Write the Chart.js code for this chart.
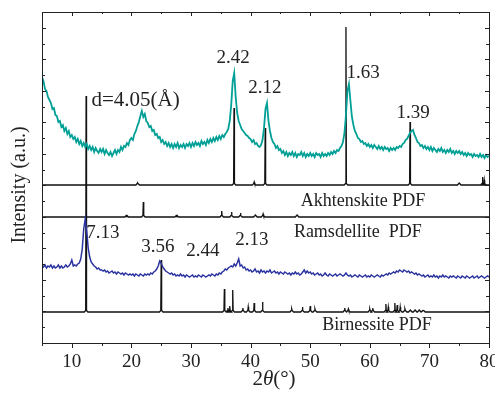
<!DOCTYPE html>
<html><head><meta charset="utf-8">
<script src="https://cdn.jsdelivr.net/npm/chart.js@4/dist/chart.umd.min.js"></script>
<style>html,body{margin:0;padding:0;background:#fff;}canvas{display:block;}</style>
</head><body>
<canvas id="c" width="495" height="395"></canvas>
<script>
// 2theta sampling grid for measured patterns: 5..80 deg, step 0.25
const scanStart = 5, scanStep = 0.25;
// Akhtenskite-like sample (teal), intensity a.u.
const tealScan = [
266,262,254,252,246,243,240,234,235,228,227,221,222,216,218,212,215,209,212,206,
208,204,206,201,204,199,202,197,200,196,199,194,197,193,196,191,195,192,190,194,
191,194,189,193,190,188,191,187,190,193,189,193,191,196,193,197,196,200,198,203,
205,203,209,212,217,221,227,232,226,229,222,220,216,217,212,213,208,209,205,206,
201,203,199,201,197,200,196,199,195,199,196,200,195,198,196,199,195,199,197,200,
196,200,197,201,198,200,197,202,199,201,198,203,200,204,201,205,202,206,203,207,
204,208,206,209,211,214,222,238,262,270,246,230,222,218,214,212,210,208,207,205,
204,201,203,199,200,197,196,198,203,215,234,240,222,212,205,201,199,195,197,193,
194,190,192,188,191,187,190,188,191,187,190,186,189,188,191,187,190,186,189,187,
190,187,189,186,190,188,189,186,190,187,189,187,190,188,191,189,192,190,193,192,
195,197,201,210,228,252,259,242,226,218,212,209,205,204,201,202,199,200,197,199,
196,198,195,198,196,194,197,194,196,193,196,194,195,192,195,193,195,193,196,195,
197,196,199,200,203,204,207,210,212,213,208,205,201,200,197,198,195,197,194,196,
193,196,192,195,193,191,194,192,195,191,193,190,193,191,194,190,192,189,192,190,
192,189,191,188,190,187,190,188,189,186,189,187,188,186,189,186,188,185,188,186,
187];
// Birnessite-like sample (blue)
const blueScan = [
78,76,78,75,77,76,78,75,77,75,76,78,75,77,75,76,78,76,77,79,
83,77,78,77,79,80,84,94,114,124,112,95,86,81,79,77,76,74,75,73,
73,72,73,71,72,70,71,72,70,71,69,71,70,69,70,68,70,69,68,69,
68,69,67,69,68,67,69,68,67,69,68,69,68,70,69,71,72,74,77,82,
80,76,74,72,71,70,69,70,68,69,67,68,67,69,67,68,66,68,67,66,
67,68,66,67,66,68,67,66,68,67,66,67,68,67,69,68,67,69,68,70,
69,71,72,74,73,75,76,77,76,79,77,80,84,77,78,75,76,73,74,72,
73,71,72,74,71,72,70,73,71,72,70,72,71,73,70,71,72,70,71,69,
71,70,69,71,70,69,70,68,70,69,71,69,70,68,69,71,73,70,72,70,
71,69,70,68,69,70,68,69,67,68,70,68,67,69,68,67,68,69,67,68,
69,68,67,68,70,68,67,68,66,67,68,67,66,68,67,66,67,68,66,67,
66,68,67,66,67,68,67,66,68,67,68,69,68,70,69,70,71,70,72,71,
73,72,71,73,72,71,72,70,71,70,69,70,68,69,68,67,68,66,67,68,
66,67,66,68,66,67,65,67,66,68,66,67,66,65,67,66,67,66,65,67,
66,65,67,66,65,67,66,65,66,67,65,66,67,65,66,67,66,65,66,67,
66];
// Reference (PDF) stick patterns: positions (2theta) and peak tops, with baselines
const akhBase = 158;
const akhPos = [21.05, 37.22, 40.6, 42.45, 56.0, 66.75, 75.0, 78.9, 79.2];
const akhTop = [160, 235, 161, 215, 316, 221, 160, 166, 163];
const ramBase = 126;
const ramPos = [19.2, 22.0, 27.6, 35.15, 36.8, 38.3, 40.8, 42.1, 47.8];
const ramTop = [127, 141, 127, 132, 131, 130, 128, 129, 128];
const birBase = 31;
const birPos = [12.4, 25.0, 35.6, 36.2, 36.5, 37.0, 38.7, 39.6, 40.6, 42.0, 46.9, 48.7, 50.0, 50.8, 55.8, 56.4, 60.0, 60.5, 62.7, 63.1, 64.2, 64.6, 65.1, 65.9, 66.8, 67.6, 68.3, 69.0];
const birTop = [247, 83, 54, 35, 37, 53, 35, 36, 40, 41, 34, 36, 37, 34, 35, 34, 34, 35, 39, 36, 40, 38, 36, 34, 33, 33, 33, 33];
// Tick labels and annotation texts
const xTickLabels = [10, 20, 30, 40, 50, 60, 70, 80];
const peakLabels = [
  {t:'d=4.05(Å)', x:20.7, y:243, s:21},
  {t:'2.42', x:37.05, y:285, s:19},
  {t:'2.12', x:42.4, y:255, s:19},
  {t:'1.63', x:58.86, y:270, s:19},
  {t:'1.39', x:67.25, y:230, s:19},
  {t:'Akhtenskite PDF', x:58.86, y:142, s:18},
  {t:'Ramsdellite  PDF', x:58.0, y:111, s:18},
  {t:'7.13', x:15.23, y:110, s:19},
  {t:'3.56', x:24.46, y:96, s:19},
  {t:'2.44', x:32.0, y:92, s:19},
  {t:'2.13', x:40.2, y:103, s:19},
  {t:'Birnessite PDF', x:61.2, y:18, s:18}
];

const FONT = "'Liberation Serif', 'Times New Roman', serif";

function scanPoints(arr){ return arr.map((v,i)=>({x: scanStart + scanStep*i, y: v})); }
function stickPoints(pos, top, base){
  const pts = [{x:5, y:base}];
  pos.forEach((p,i)=>{
    pts.push({x:p-0.3, y:base});
    pts.push({x:p-0.07, y:base+1.5});
    pts.push({x:p, y:top[i]});
    pts.push({x:p+0.07, y:base+1.5});
    pts.push({x:p+0.3, y:base});
  });
  pts.push({x:80, y:base});
  return pts;
}

const decor = {
  id:'decor',
  afterDraw(chart){
    const {ctx, chartArea:{left,right,top,bottom}, scales:{x,y}} = chart;
    ctx.save();
    ctx.strokeStyle = '#222'; ctx.lineWidth = 1;
    ctx.strokeRect(Math.round(left)+0.5, Math.round(top)+0.5, Math.round(right-left), Math.round(bottom-top));
    ctx.beginPath();
    for (let v=5; v<=80; v+=5){
      const px = Math.round(x.getPixelForValue(v))+0.5;
      const major = v%10===0;
      ctx.moveTo(px, bottom); ctx.lineTo(px, bottom + (major?5:3));
      ctx.moveTo(px, top); ctx.lineTo(px, top + (major?4:2));
    }
    for (let k=1; k<21; k++){
      const py = Math.round(y.getPixelForValue(k*331/21))+0.5;
      const len = k%2===0 ? 4 : 3;
      ctx.moveTo(left, py); ctx.lineTo(left+len, py);
      ctx.moveTo(right, py); ctx.lineTo(right-len, py);
    }
    ctx.stroke();
    ctx.fillStyle = '#222';
    ctx.textBaseline = 'middle'; ctx.textAlign = 'center';
    // x tick labels
    ctx.font = '19px ' + FONT;
    xTickLabels.forEach(v=>{ ctx.fillText(String(v), x.getPixelForValue(v), 362); });
    peakLabels.forEach(l=>{
      ctx.font = l.s + 'px ' + FONT;
      ctx.fillText(l.t, x.getPixelForValue(l.x), y.getPixelForValue(l.y));
    });
    // x-axis title 2θ(°)
    const parts = [['2','21px '+FONT],['θ','italic 21px '+FONT],['(°)','21px '+FONT]];
    let w = 0; parts.forEach(p=>{ctx.font=p[1]; w+=ctx.measureText(p[0]).width;});
    let cx = 274 - w/2;
    ctx.textAlign = 'left';
    parts.forEach(p=>{ctx.font=p[1]; ctx.fillText(p[0], cx, 379); cx += ctx.measureText(p[0]).width;});
    // y-axis title
    ctx.translate(20, 185); ctx.rotate(-Math.PI/2);
    ctx.textAlign = 'center'; ctx.font = '20px ' + FONT;
    ctx.fillText('Intensity (a.u.)', 0, 0);
    ctx.restore();
  }
};

new Chart(document.getElementById('c'), {
  type:'line',
  data:{ datasets:[
    {data:scanPoints(tealScan), borderColor:'#00a096', borderWidth:1.8},
    {data:scanPoints(blueScan), borderColor:'#2a33a0', borderWidth:1.5},
    {data:stickPoints(akhPos, akhTop, akhBase), borderColor:'#111', borderWidth:1.3},
    {data:stickPoints(ramPos, ramTop, ramBase), borderColor:'#111', borderWidth:1.3},
    {data:stickPoints(birPos, birTop, birBase), borderColor:'#111', borderWidth:1.3}
  ]},
  options:{
    responsive:false, animation:false, devicePixelRatio:1,
    elements:{point:{radius:0}, line:{tension:0}},
    layout:{padding:{left:42, top:12, right:6, bottom:0}},
    plugins:{legend:{display:false}, tooltip:{enabled:false}},
    scales:{
      x:{type:'linear', min:5, max:80,
         afterFit:s=>{ s.height = 52; },
         grid:{display:false, drawTicks:false}, border:{display:false},
         ticks:{display:false}},
      y:{type:'linear', min:0, max:331, display:false}
    }
  },
  plugins:[decor]
});
</script>
</body></html>
